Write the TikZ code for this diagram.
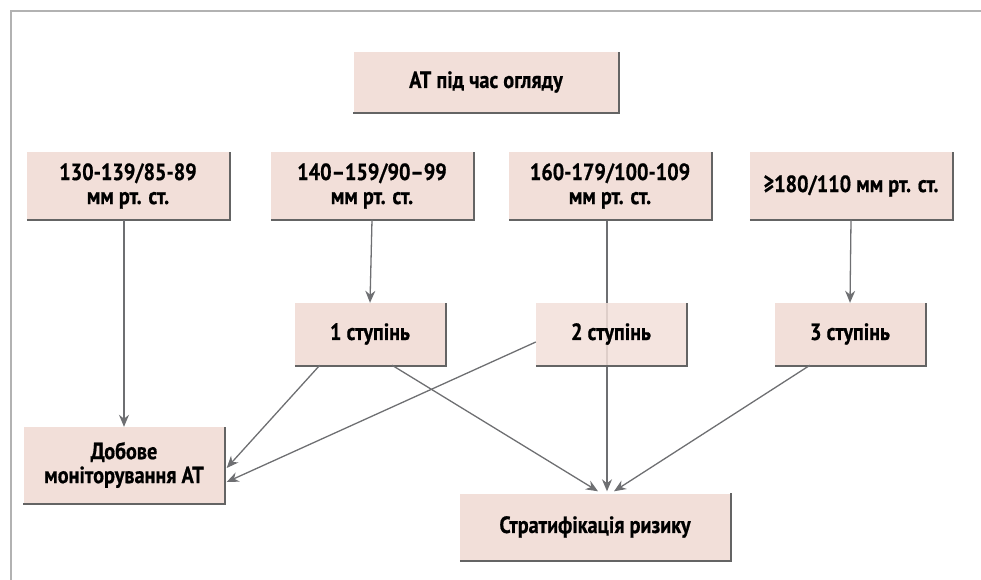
\documentclass[tikz,border=0pt]{standalone}
\usepackage{fontspec}
\setmainfont{PT Sans}[FakeStretch=0.86, BoldFeatures={FakeBold=0.6}]
\usetikzlibrary{arrows.meta}
\definecolor{boxfill}{RGB}{242,223,217}
\definecolor{arrgray}{RGB}{110,111,114}
\definecolor{framegray}{RGB}{178,178,178}
\definecolor{edgegray}{RGB}{100,100,100}
\pgfdeclarelayer{bg}
\pgfsetlayers{bg,main}

\begin{document}
\begin{tikzpicture}[
  x=1pt, y=-1pt,
  every node/.style={font=\fontsize{23.5}{24}\selectfont\bfseries, align=center, inner sep=0pt},
  rimline/.style={draw=edgegray, line width=2pt},
  box/.style={fill=boxfill, minimum width=202pt, minimum height=67pt},
  grade/.style={box, minimum width=150pt, minimum height=62pt},
  arr/.style={draw=arrgray, line width=1.3pt, -{Stealth[length=12pt,width=10pt]}}
]
\useasboundingbox (0,0) rectangle (981,580);
\draw[framegray, line width=2pt] (11,580) -- (11,11) -- (981,11);

\node[box, minimum width=265pt, minimum height=60pt] (visit) at (486,82) {АТ під час огляду};
\node[box] (b1) at (128,186) {130-139/85-89\\мм рт. ст.};
\node[box] (b2) at (372,186) {140–159/90–99\\мм рт. ст.};
\node[box] (b3) at (610,186) {160-179/100-109\\мм рт. ст.};
\node[box] (b4) at (851,186) {≥180/110 мм рт. ст.};
\node[grade] (s1) at (370,334) {1 ступінь};
\node[grade, fill opacity=0.85, text opacity=1] (s2) at (611,334) {2 ступінь};
\node[grade] (s3) at (850,334) {3 ступінь};
\node[box, minimum width=201pt, minimum height=76pt] (dob) at (124,465) {Добове\\моніторування АТ};
\node[box, minimum width=270pt] (strat) at (595,527) {Стратифікація ризику};

% shaded lower and right edges
\foreach \nm in {visit,b1,b2,b3,b4,s1,s2,s3,dob,strat}
  \draw[rimline] ([yshift=-0.5pt]\nm.south west) -- ([xshift=0.5pt,yshift=-0.5pt]\nm.south east) -- ([xshift=0.5pt]\nm.north east);

\draw[arr] (dob.north |- b1.south) -- (dob.north);
\draw[arr] (b2.south) -- (s1.north);
\draw[arr] (b4.south) -- (s3.north);
\draw[arr] ([xshift=25pt]s1.south west) -- ([xshift=2pt,yshift=-3pt]dob.east);
\draw[arr] ([xshift=22pt]s1.south) -- ([xshift=3pt,yshift=2pt]strat.north);
\draw[arr] ([yshift=-8pt]s2.west) -- ([xshift=2pt,yshift=-17pt]dob.east);
\draw[arr] ([xshift=-40pt]s3.south) -- ([xshift=19pt,yshift=2pt]strat.north);
\begin{pgfonlayer}{bg}
\draw[arr] ([xshift=-3pt]b3.south) -- ([xshift=-3pt,yshift=2pt]b3.south |- strat.north);
\end{pgfonlayer}
\end{tikzpicture}
\end{document}
